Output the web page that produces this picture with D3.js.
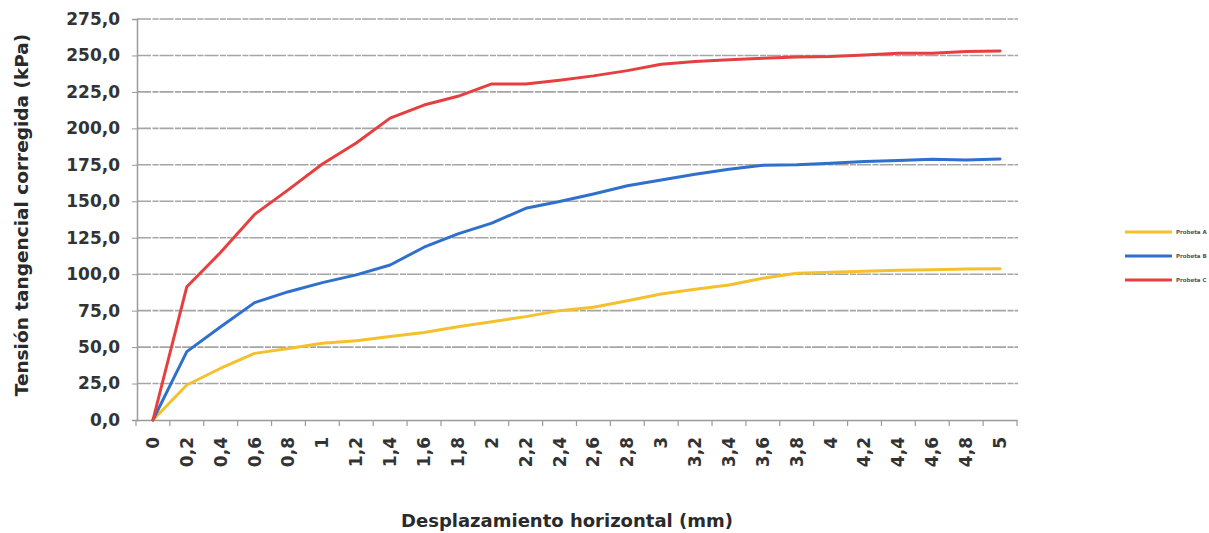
<!DOCTYPE html>
<html><head><meta charset="utf-8">
<script src="https://cdn.jsdelivr.net/npm/d3@7"></script>
<style>body{margin:0;background:#fff;} text{font-family:"DejaVu Sans",Arial,sans-serif;}</style>
</head><body>
<svg id="c" width="1209" height="533"></svg>
<script>
const categories = ["0","0,2","0,4","0,6","0,8","1","1,2","1,4","1,6","1,8","2","2,2","2,4","2,6","2,8","3","3,2","3,4","3,6","3,8","4","4,2","4,4","4,6","4,8","5"];
const probetaA = [0,24,35.5,45.7,49,52.6,54.4,57.2,60,64,67.4,70.9,75,77.3,81.8,86.4,89.6,92.6,97.2,100.6,101.3,102,102.7,103.1,103.6,103.8];
const probetaB = [0,46.9,64,80.5,88,94.2,99.5,106.3,118.5,127.6,135,145.2,149.8,155,160.7,164.6,168.5,172,174.7,175,176,177.2,177.9,178.8,178.3,179];
const probetaC = [0,91.4,115,141,158,175.6,190,207,216,222,230.5,230.5,233,236,239.6,244,245.8,247,248,249,249.2,250.3,251.5,251.5,252.7,253];
const yTicks = [0,25,50,75,100,125,150,175,200,225,250,275];
const seriesNames = ["Probeta A","Probeta B","Probeta C"];
const seriesColors = ["#f4c02c","#2f6fce","#e5403f"];

const svg = d3.select("#c");
const x = d3.scaleBand().domain(categories).range([136,1017]);
const y = d3.scaleLinear().domain([0,275]).range([420,19]);

// gridlines
svg.append("g").selectAll("line").data(yTicks.slice(1)).join("line")
  .attr("x1",137).attr("x2",1018).attr("y1",d=>y(d)).attr("y2",d=>y(d))
  .attr("stroke","#a5a5a5").attr("stroke-width",1.6).attr("stroke-dasharray","14,1.5,6,1");

// y axis
const yAxis = svg.append("g").attr("transform","translate(137,0)")
  .call(d3.axisLeft(y).tickValues(yTicks).tickSize(5).tickPadding(12).tickFormat(d=>d3.format(".1f")(d).replace(".",",")));
yAxis.select(".domain").attr("stroke","#9a9a9a").attr("stroke-width",1.5);
yAxis.selectAll(".tick line").attr("stroke","#9a9a9a");
yAxis.selectAll("text").attr("font-size",17).attr("font-weight","bold").attr("fill","#333");

// x axis
const xAxis = svg.append("g").attr("transform","translate(0,420)")
  .call(d3.axisBottom(x).tickSize(0).tickPadding(0));
xAxis.select(".domain").attr("stroke","#9a9a9a").attr("stroke-width",1.5);
xAxis.selectAll(".tick text").attr("font-size",17).attr("font-weight","bold").attr("fill","#333")
  .attr("transform","rotate(-90)").attr("text-anchor","end").attr("dy","0.35em").attr("x",-17).attr("y",0);
// boundary ticks
svg.append("g").selectAll("line").data(categories.map((c,i)=>i).concat([categories.length])).join("line")
  .attr("x1",i=>i<categories.length?x(categories[i]):x.range()[1]).attr("x2",i=>i<categories.length?x(categories[i]):x.range()[1])
  .attr("y1",420).attr("y2",426).attr("stroke","#9a9a9a").attr("stroke-width",1.2);

// lines
const data = [probetaA,probetaB,probetaC];
const line = d3.line().x((d,i)=>x(categories[i])+x.bandwidth()/2).y(d=>y(d));
svg.append("g").selectAll("path").data(data).join("path")
  .attr("d",line).attr("fill","none").attr("stroke",(d,i)=>seriesColors[i])
  .attr("stroke-width",3).attr("stroke-linejoin","round").attr("stroke-linecap","round");

// legend
const lg = svg.append("g").selectAll("g").data(seriesNames).join("g")
  .attr("transform",(d,i)=>`translate(1125,${232+i*24})`);
lg.append("line").attr("x1",0).attr("x2",47).attr("stroke",(d,i)=>seriesColors[i]).attr("stroke-width",3);
lg.append("text").attr("x",51).attr("dy","0.35em").attr("font-size",5.5).attr("font-weight","bold").attr("fill","#555").text(d=>d);

// titles
svg.append("text").attr("transform","translate(28,215) rotate(-90)").attr("text-anchor","middle")
  .attr("font-size",18.5).attr("font-weight","bold").attr("fill","#2a2a2a").text("Tensión tangencial corregida (kPa)");
svg.append("text").attr("x",567).attr("y",527).attr("text-anchor","middle")
  .attr("font-size",18).attr("font-weight","bold").attr("fill","#2a2a2a").text("Desplazamiento horizontal (mm)");
</script>
</body></html>
